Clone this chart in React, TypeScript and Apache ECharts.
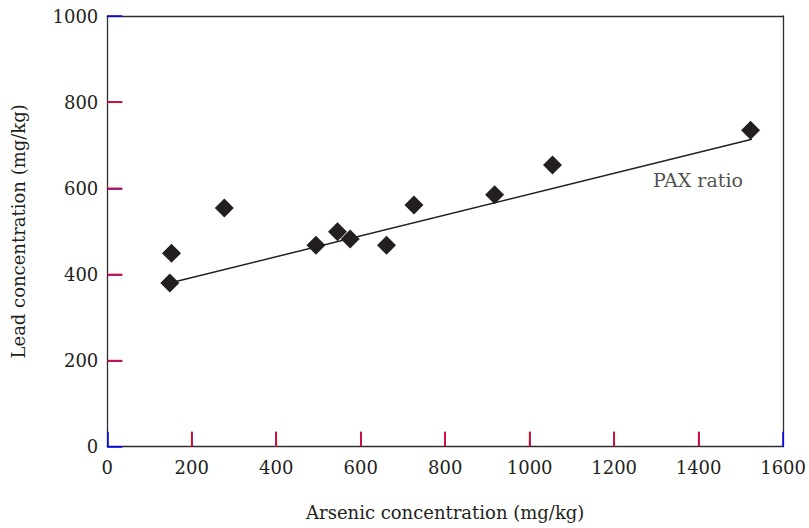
import React, { useEffect, useRef } from "react";
import * as echarts from "echarts";

const arsenic = [148, 152, 277, 494, 545, 575, 661, 726, 917, 1054, 1523];
const lead = [380, 449, 554, 468, 499, 482, 468, 561, 585, 654, 735];
const fitLine = [
  [148, 380],
  [1526, 714],
];
const annotation = { x: 1292, y: 619, text: "PAX ratio" };
const xTicks = { min: 0, max: 1600, interval: 200 };
const yTicks = { min: 0, max: 1000, interval: 200 };
const xTickValues = [200, 400, 600, 800, 1000, 1200, 1400];
const yTickValues = [200, 400, 600, 800];

const INK = "#231f20";
const AXIS = "#2e2e2e";
const FONT = "DejaVu Serif";
const TICK_LEN = 15;

export default function App() {
  const ref = useRef<HTMLDivElement>(null);
  useEffect(() => {
    if (!ref.current) return;
    const chart = echarts.init(ref.current, null, { renderer: "svg" });
    chart.setOption({
      animation: false,
      backgroundColor: "#ffffff",
      grid: {
        left: 107.3,
        right: 23.3,
        top: 16,
        bottom: 81.3,
      },
      xAxis: [
        {
          type: "value",
          position: "bottom",
          min: xTicks.min,
          max: xTicks.max,
          interval: xTicks.interval,
          name: "Arsenic concentration (mg/kg)",
          nameLocation: "middle",
          nameGap: 57,
          nameTextStyle: { fontFamily: FONT, fontSize: 18, color: INK },
          axisLine: { show: true, onZero: false, lineStyle: { color: AXIS, width: 1.3 } },
          axisTick: { show: true, inside: true, length: TICK_LEN, lineStyle: { color: "blue", width: 1.5 } },
          axisLabel: {
            fontFamily: FONT,
            fontSize: 18,
            color: INK,
            margin: 12,
            formatter: (v: number) => String(v),
          },
          splitLine: { show: false },
        },
        {
          type: "value",
          position: "top",
          min: xTicks.min,
          max: xTicks.max,
          interval: xTicks.interval,
          axisLine: { show: true, onZero: false, lineStyle: { color: AXIS, width: 1.3 } },
          axisTick: { show: false },
          axisLabel: { show: false },
          splitLine: { show: false },
        },
      ],
      yAxis: [
        {
          type: "value",
          position: "left",
          min: yTicks.min,
          max: yTicks.max,
          interval: yTicks.interval,
          name: "Lead concentration (mg/kg)",
          nameLocation: "middle",
          nameRotate: 90,
          nameGap: 80,
          nameMoveOverlap: false,
          nameTextStyle: { fontFamily: FONT, fontSize: 18, color: INK },
          axisLine: { show: true, onZero: false, lineStyle: { color: AXIS, width: 1.3 } },
          axisTick: { show: true, inside: true, length: TICK_LEN, lineStyle: { color: "blue", width: 1.5 } },
          axisLabel: {
            fontFamily: FONT,
            fontSize: 18,
            color: INK,
            margin: 9,
            padding: [6, 0, 0, 0],
            formatter: (v: number) => String(v),
          },
          splitLine: { show: false },
        },
        {
          type: "value",
          position: "right",
          min: yTicks.min,
          max: yTicks.max,
          axisLine: { show: true, onZero: false, lineStyle: { color: AXIS, width: 1.3 } },
          axisTick: { show: false },
          axisLabel: { show: false },
          splitLine: { show: false },
        },
      ],
      series: [
        {
          type: "line",
          data: fitLine,
          symbol: "none",
          lineStyle: { color: INK, width: 1.5 },
          z: 2,
        },
        {
          type: "scatter",
          data: arsenic.map((x, i) => [x, lead[i]]),
          symbol: "diamond",
          symbolSize: 19,
          itemStyle: { color: INK, opacity: 1 },
          z: 3,
        },
        {
          type: "scatter",
          data: [[annotation.x, annotation.y]],
          symbolSize: 0,
          itemStyle: { color: "transparent" },
          label: {
            show: true,
            position: "right",
            distance: 0,
            formatter: annotation.text,
            fontFamily: FONT,
            fontSize: 19,
            color: INK,
          },
          silent: true,
        },
      ],
    });
    const tickLines: any[] = [];
    xTickValues.forEach((v) => {
      const p = chart.convertToPixel({ xAxisIndex: 0, yAxisIndex: 0 }, [v, yTicks.min]) as number[];
      tickLines.push({
        type: "line",
        z: 100,
        shape: { x1: p[0], y1: p[1], x2: p[0], y2: p[1] - TICK_LEN },
        style: { stroke: "red", lineWidth: 1.5 },
      });
    });
    yTickValues.forEach((v) => {
      const p = chart.convertToPixel({ xAxisIndex: 0, yAxisIndex: 0 }, [xTicks.min, v]) as number[];
      tickLines.push({
        type: "line",
        z: 100,
        shape: { x1: p[0], y1: p[1], x2: p[0] + TICK_LEN, y2: p[1] },
        style: { stroke: "red", lineWidth: 1.5 },
      });
    });
    chart.setOption({ graphic: tickLines });
    return () => chart.dispose();
  }, []);
  return (
    <div
      ref={ref}
      style={{ position: "fixed", left: 0, top: 0, width: 809, height: 528, background: "#fff" }}
    />
  );
}
